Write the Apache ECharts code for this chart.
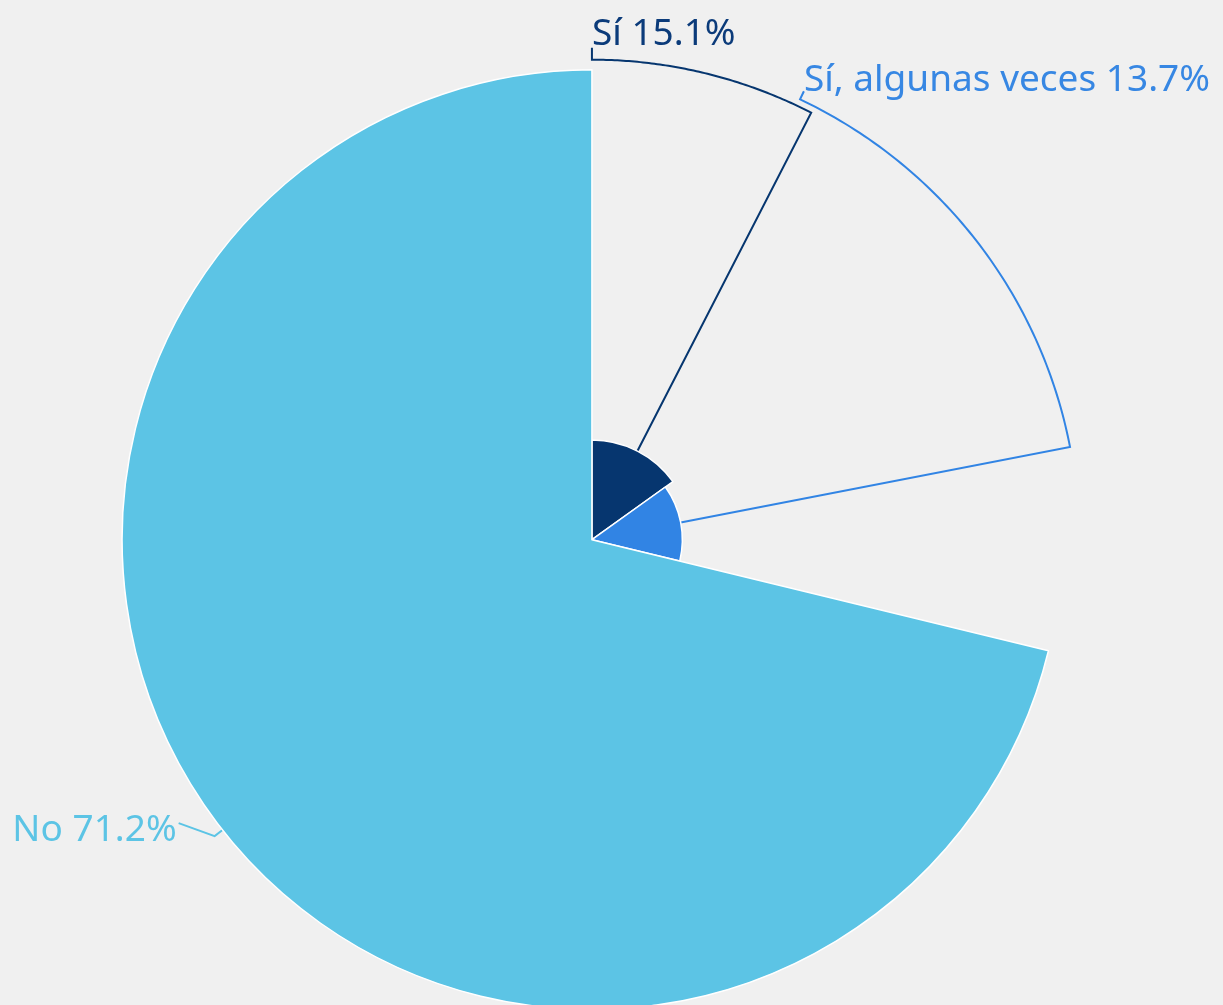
<!DOCTYPE html>
<html>
<head>
<meta charset="utf-8">
<script src="https://cdn.jsdelivr.net/npm/echarts@6/dist/echarts.min.js"></script>
<style>
html,body{margin:0;padding:0;background:#f0f0f0;}
#c{width:1223px;height:1005px;}
</style>
</head>
<body>
<div id="c"></div>
<script>
// ---- data ----
const categories = ['Sí', 'Sí, algunas veces', 'No'];
const values = [15.1, 13.7, 71.2];

// ---- styles ----
const sliceColors = ['#06366f', '#3184e4', '#5cc4e5'];
const labelColors = ['#0b3b7a', '#3787e3', '#5cc4e5'];
// label-guide routing (style only): arc radius (px), label angle (deg clockwise from top), tick length (px)
const guideArcR = [480, 487, null];
const guideLabelAngle = [0, 25.3, null];
const guideTick = [12, 9, null];
const labelDy = [5, 8, 7];

const chart = echarts.init(document.getElementById('c'), null, {renderer: 'canvas'});

function itemLayout(i) {
  try {
    const l = chart.getModel().getSeriesByIndex(0).getData().getItemLayout(i);
    if (l) return l;
  } catch (e) {}
  return null;
}

const option = {
  backgroundColor: '#f0f0f0',
  animation: false,
  series: [{
    type: 'pie',
    roseType: 'radius',
    center: ['48.4%', '53.7%'],
    radius: [0, '93.5%'],
    startAngle: 90,
    clockwise: true,
    avoidLabelOverlap: false,
    itemStyle: {borderColor: '#ffffff', borderWidth: 1.5},
    label: {
      show: true,
      position: 'outside',
      fontFamily: 'Noto Sans',
      fontSize: 37,
      formatter: function (p) { return p.name + ' ' + p.value.toFixed(1) + '%'; }
    },
    labelLine: {show: true, smooth: false, length: 10, length2: 36, lineStyle: {width: 2}},
    emphasis: {disabled: true},
    labelLayout: function (p) {
      const i = p.dataIndex;
      const lay = itemLayout(i);
      if (!lay) return {};
      const cx = lay.cx, cy = lay.cy, r = lay.r;
      const mid = (lay.startAngle + lay.endAngle) / 2;
      const pt = function (rad, a) { return [cx + rad * Math.cos(a), cy + rad * Math.sin(a)]; };
      const pts = [pt(r, mid)];
      if (guideArcR[i]) {
        const R = guideArcR[i];
        const la = -Math.PI / 2 + guideLabelAngle[i] * Math.PI / 180;
        let diff = la - mid;
        while (diff > Math.PI) diff -= 2 * Math.PI;
        while (diff < -Math.PI) diff += 2 * Math.PI;
        const n = 80;
        for (let k = 0; k <= n; k++) pts.push(pt(R, mid + diff * k / n));
        const end = pt(R + guideTick[i], la);
        pts.push(end);
        return {x: end[0], y: end[1] + labelDy[i], align: 'left', verticalAlign: 'bottom', labelLinePoints: pts};
      } else {
        const p1 = pt(r + 10, mid);
        pts.push(p1);
        const p2 = [p1[0] - 36, p1[1] - 13];
        pts.push(p2);
        return {x: p2[0] - 2, y: p2[1] + labelDy[i], align: 'right', verticalAlign: 'middle', labelLinePoints: pts};
      }
    },
    data: categories.map(function (name, i) {
      return {
        name: name,
        value: values[i],
        itemStyle: {color: sliceColors[i]},
        label: {color: labelColors[i]},
        labelLine: {lineStyle: {color: sliceColors[i], width: 2}}
      };
    })
  }]
};
chart.setOption(option);
</script>
</body>
</html>
